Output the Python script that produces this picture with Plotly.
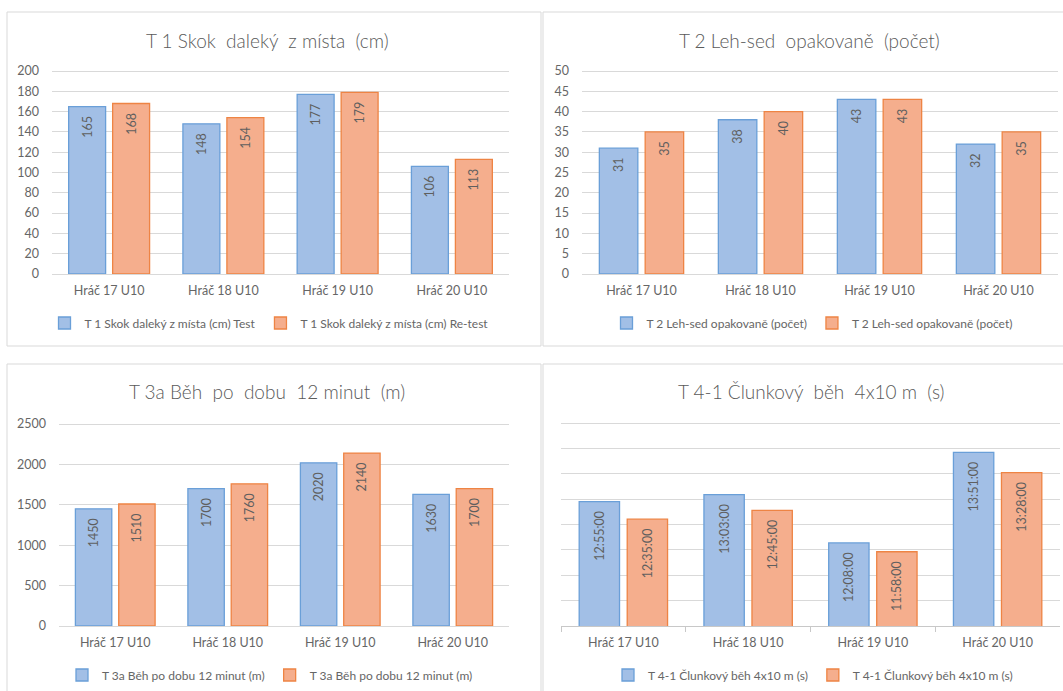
import plotly.graph_objects as go

# Player categories shared by all four tests
players = ["Hráč 17 U10", "Hráč 18 U10", "Hráč 19 U10", "Hráč 20 U10"]

# T 1 standing long jump (cm)
t1_test = [165, 148, 177, 106]
t1_retest = [168, 154, 179, 113]

# T 2 repeated sit-ups (count)
t2_test = [31, 38, 43, 32]
t2_retest = [35, 40, 43, 35]

# T 3a 12-minute run (m)
t3_test = [1450, 1700, 2020, 1630]
t3_retest = [1510, 1760, 2140, 1700]

# T 4-1 shuttle run 4x10 m, stored as time strings
t4_test = ["12:55:00", "13:03:00", "12:08:00", "13:51:00"]
t4_retest = ["12:35:00", "12:45:00", "11:58:00", "13:28:00"]

titles = [
    "T 1 Skok  daleký  z místa  (cm)",
    "T 2 Leh-sed  opakovaně  (počet)",
    "T 3a Běh  po  dobu  12 minut  (m)",
    "T 4-1 Člunkový  běh  4x10 m  (s)",
]
names = [
    ("T 1 Skok daleký z místa (cm) Test", "T 1 Skok daleký z místa (cm) Re-test"),
    ("T 2 Leh-sed opakovaně (počet)", "T 2 Leh-sed opakovaně (počet)"),
    ("T 3a Běh po dobu 12 minut (m)", "T 3a Běh po dobu 12 minut (m)"),
    ("T 4-1 Člunkový běh 4x10 m (s)", "T 4-1 Člunkový běh 4x10 m (s)"),
]


def day_fraction(t):
    h, m, s = (int(p) for p in t.split(":"))
    return h / 24 + m / 1440 + s / 86400


W, H = 1063, 691
FONT = "Lato"
GRAY = "#666666"
GRID = "#d9d9d9"
BLUE_FILL, BLUE_LINE = "#a2bfe6", "#6a9fd8"
ORANGE_FILL, ORANGE_LINE = "#f5ae8d", "#ee8444"
PAD = "\u00a0\u00a0"  # keeps the rotated value labels a little below the bar tops


def fx(x):
    return x / W


def fy(y):
    return 1 - y / H


# plot-area boxes (left, top, right, bottom) in pixels
boxes = [
    (52, 70, 509, 274),
    (582, 70, 1058, 274),
    (59, 422, 509, 626),
    (561, 422, 1060, 626),
]
title_pos = [(267, 40), (809, 40), (267, 391), (811, 391)]
legend_pos = [(269, 323), (812, 323), (270, 675), (813, 675)]
panels = [(7, 12, 541, 346), (543, 12, 1075, 346), (7, 364, 541, 700), (543, 364, 1075, 700)]

series = [
    (t1_test, t1_retest, [str(v) for v in t1_test], [str(v) for v in t1_retest]),
    (t2_test, t2_retest, [str(v) for v in t2_test], [str(v) for v in t2_retest]),
    (t3_test, t3_retest, [str(v) for v in t3_test], [str(v) for v in t3_retest]),
    ([day_fraction(t) for t in t4_test], [day_fraction(t) for t in t4_retest], t4_test, t4_retest),
]
y_ranges = [(0, 200, 20, 10), (0, 50, 5, 10), (0, 2500, 500, 5), (0.44, 0.60, 0.02, 8)]

fig = go.Figure()

for i in range(4):
    k = "" if i == 0 else str(i + 1)
    xa, ya, lg = "x" + k, "y" + k, "legend" + k
    test_vals, retest_vals, test_txt, retest_txt = series[i]
    for vals, txt, name, fill, line in [
        (test_vals, test_txt, names[i][0], BLUE_FILL, BLUE_LINE),
        (retest_vals, retest_txt, names[i][1], ORANGE_FILL, ORANGE_LINE),
    ]:
        fig.add_trace(go.Bar(
            x=players, y=vals, name=name, xaxis=xa, yaxis=ya, legend=lg,
            marker=dict(color=fill, line=dict(color=line, width=1.3)),
            text=[s + PAD for s in txt], textposition="inside", insidetextanchor="end",
            textangle=-90, textfont=dict(family=FONT, size=12.5, color="#5f5f5f"),
            hoverinfo="skip",
        ))

    l, t, r, b = boxes[i]
    lo, hi, step, n_steps = y_ranges[i]
    grid_vals = [round(lo + n * step, 6) for n in range(n_steps + 1)]
    last = i == 3
    fig.update_layout({
        "xaxis" + k: dict(
            domain=[fx(l), fx(r)], anchor=ya, showgrid=False,
            showline=True, linecolor=GRID if not last else "#c8c8c8", linewidth=1,
            ticks="outside" if last else "", tickson="boundaries",
            ticklen=5, tickcolor="#c8c8c8",
            tickfont=dict(family=FONT, size=12.5, color=GRAY),
            ticklabelstandoff=5, fixedrange=True,
        ),
        "yaxis" + k: dict(
            domain=[fy(b), fy(t)], anchor=xa, range=[lo, hi + step * 0.05],
            tickmode="array", tickvals=grid_vals,
            ticktext=[f"{v:g}" for v in grid_vals],
            showgrid=True, gridcolor=GRID, gridwidth=1, zeroline=False,
            showticklabels=not last,
            tickfont=dict(family=FONT, size=12.5, color=GRAY),
            ticklabelstandoff=12, fixedrange=True,
        ),
        lg: dict(
            orientation="h", x=fx(legend_pos[i][0]), y=fy(legend_pos[i][1]),
            xanchor="center", yanchor="middle",
            font=dict(family=FONT, size=12, color=GRAY),
            bgcolor="rgba(0,0,0,0)", itemwidth=30,
        ),
    })

    fig.add_annotation(
        text=titles[i], xref="paper", yref="paper",
        x=fx(title_pos[i][0]), y=fy(title_pos[i][1]),
        xanchor="center", yanchor="middle", showarrow=False,
        font=dict(family=FONT, size=19, color="#5a5a5a", weight=300),
    )
    pl, pt, pr, pb = panels[i]
    fig.add_shape(
        type="rect", xref="paper", yref="paper",
        x0=fx(pl), x1=fx(pr), y0=fy(pb), y1=fy(pt),
        line=dict(color=GRID, width=1), fillcolor="rgba(0,0,0,0)", layer="below",
    )

fig.update_layout(
    width=W, height=H, margin=dict(l=0, r=0, t=0, b=0, autoexpand=False),
    paper_bgcolor="white", plot_bgcolor="white",
    barmode="group", bargap=0.23, bargroupgap=0.16,
    font=dict(family=FONT, color=GRAY),
)

fig.write_html("out.html")
